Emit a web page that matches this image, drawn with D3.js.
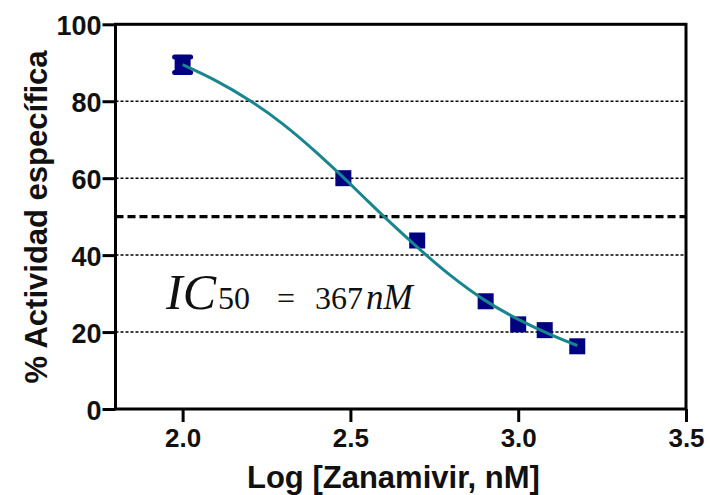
<!DOCTYPE html>
<html><head><meta charset="utf-8">
<script src="https://cdn.jsdelivr.net/npm/d3@7"></script>
<style>body{margin:0;background:#fff;}svg{display:block;}</style>
</head><body>
<svg id="c" width="710" height="495"></svg>
<script>
const logConc = [2.0, 2.479, 2.699, 2.903, 3.0, 3.079, 3.176];
const activity = [89.5, 60.0, 43.8, 28.0, 22.0, 20.5, 16.3];
const errLow = [87.5, 60.0, 43.8, 28.0, 22.0, 20.5, 16.3];
const errHigh = [91.5, 60.0, 43.8, 28.0, 22.0, 20.5, 16.3];
const fitX = [2.0, 2.1, 2.2, 2.3, 2.4, 2.479, 2.55, 2.605, 2.7, 2.8, 2.9, 3.0, 3.1, 3.176];
const fitY = [89.5, 85.3, 80.2, 74.0, 66.6, 60.2, 54.2, 49.6, 42.0, 34.6, 28.3, 23.3, 19.2, 16.5];
const xTicks = [2.0, 2.5, 3.0, 3.5];
const yTicks = [0, 20, 40, 60, 80, 100];
const gridLines = [20, 40, 60, 80];
const refLine = 50;

const svg = d3.select("#c");
const L = 115.5, R = 686, T = 24.3, B = 409;
const x = d3.scaleLinear().domain([1.8, 3.5]).range([L, R]);
const y = d3.scaleLinear().domain([0, 100]).range([B, T]);
const sans = "Liberation Sans, Arial, sans-serif";
const serif = "Liberation Serif, Times New Roman, serif";

// grid
svg.selectAll(".g").data(gridLines).enter().append("line")
  .attr("x1", L).attr("x2", R).attr("y1", d => y(d)).attr("y2", d => y(d))
  .attr("stroke", "#000").attr("stroke-width", 1.5).attr("stroke-dasharray", "3,2");
svg.append("line").attr("x1", L).attr("x2", R).attr("y1", y(refLine)).attr("y2", y(refLine))
  .attr("stroke", "#000").attr("stroke-width", 3.2).attr("stroke-dasharray", "8,4");

// frame
svg.append("rect").attr("x", L).attr("y", T).attr("width", R - L).attr("height", B - T)
  .attr("fill", "none").attr("stroke", "#000").attr("stroke-width", 3);

// axes
const xAxis = svg.append("g").attr("transform", `translate(0,${B})`)
  .call(d3.axisBottom(x).tickValues(xTicks).tickFormat(d3.format(".1f")).tickSize(13).tickPadding(7));
const yAxis = svg.append("g").attr("transform", `translate(${L},0)`)
  .call(d3.axisLeft(y).tickValues(yTicks).tickSize(13).tickPadding(1));
[xAxis, yAxis].forEach(a => {
  a.select(".domain").remove();
  a.selectAll(".tick line").attr("stroke", "#000").attr("stroke-width", 3);
  a.selectAll("text").attr("font-family", sans)
    .attr("font-weight", "bold").attr("fill", "#111");
});
xAxis.selectAll("text").attr("font-size", 26);
yAxis.selectAll("text").attr("font-size", 27).attr("dy", "0.38em");

// fit curve
const line = d3.line().x(d => x(d[0])).y(d => y(d[1])).curve(d3.curveNatural);
const fitPts = fitX.map((v, i) => [v, fitY[i]]);

// error bars
const eb = svg.append("g");
logConc.forEach((c, i) => {
  if (errHigh[i] > errLow[i]) {
    eb.append("line").attr("x1", x(c)).attr("x2", x(c)).attr("y1", y(errLow[i])).attr("y2", y(errHigh[i]))
      .attr("stroke", "#000080").attr("stroke-width", 4);
    [errLow[i], errHigh[i]].forEach(v => eb.append("line").attr("x1", x(c) - 8).attr("x2", x(c) + 8)
      .attr("y1", y(v)).attr("y2", y(v)).attr("stroke", "#000080").attr("stroke-width", 5).attr("stroke-linecap", "round"));
  }
});
// markers
svg.selectAll(".pt").data(logConc).enter().append("rect")
  .attr("x", d => x(d) - 8).attr("y", (d, i) => y(activity[i]) - 8)
  .attr("width", 16).attr("height", 16).attr("fill", "#000080");
svg.append("path").datum(fitPts).attr("d", line).attr("fill", "none")
  .attr("stroke", "#18858f").attr("stroke-width", 3);

// axis titles
svg.append("text").attr("x", 247).attr("y", 488)
  .attr("font-family", sans).attr("font-weight", "bold")
  .attr("font-size", 31).attr("fill", "#111").text("Log [Zanamivir, nM]");
svg.append("text").attr("transform", `translate(47,217) rotate(-90)`).attr("text-anchor", "middle")
  .attr("font-family", sans).attr("font-weight", "bold")
  .attr("font-size", 31).attr("fill", "#111").text("% Actividad específica");

// IC50 annotation
const ann = svg.append("text").attr("y", 309).attr("font-family", serif).attr("fill", "#111");
ann.append("tspan").attr("x", 166).attr("font-style", "italic").attr("font-size", 50).text("IC");
ann.append("tspan").attr("x", 218).attr("font-size", 32).text("50");
ann.append("tspan").attr("x", 277).attr("font-size", 32).text("=");
ann.append("tspan").attr("x", 315).attr("font-size", 32).text("367");
ann.append("tspan").attr("x", 366).attr("font-size", 35).attr("font-style", "italic").text("nM");
</script>
</body></html>
